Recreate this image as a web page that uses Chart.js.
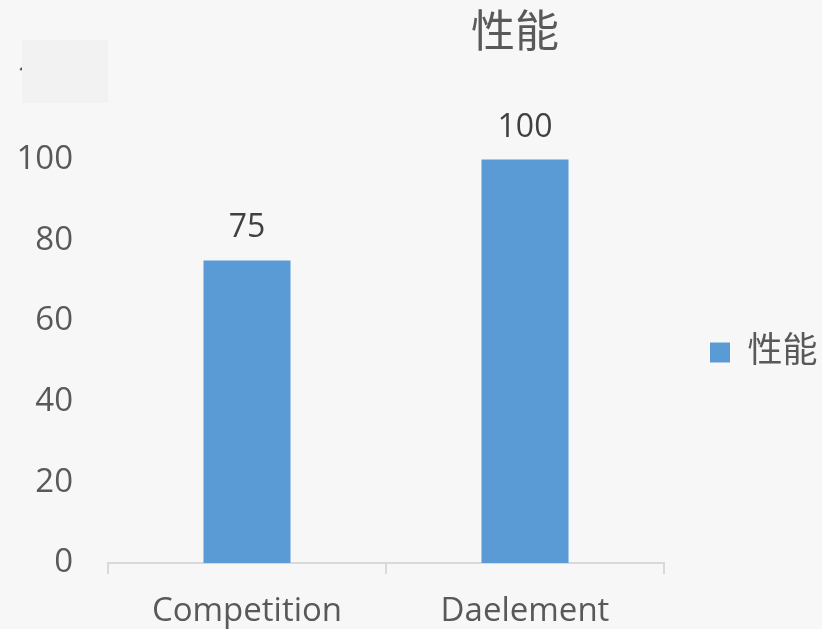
<!DOCTYPE html>
<html>
<head>
<meta charset="utf-8">
<script src="https://cdn.jsdelivr.net/npm/chart.js@4"></script>
<style>
  html, body { margin: 0; padding: 0; background: #f7f7f7; }
  #wrap { position: relative; width: 822px; height: 629px; }
  #cover { position: absolute; left: 22px; top: 40px; width: 86px; height: 63px; background: #f2f2f2; }
</style>
</head>
<body>
<div id="wrap">
  <canvas id="chart" width="822" height="629"></canvas>
  <div id="cover"></div>
</div>
<script>
const categories = ['Competition', 'Daelement']
const values = [75, 100]
const seriesName = '性能'
const yTicks = [0, 20, 40, 60, 80, 100, 120]

Chart.defaults.font.family = "'Open Sans', 'Noto Sans CJK SC', sans-serif"

// values above bars
const barLabels = {
  id: 'barLabels',
  afterDatasetsDraw(chart) {
    const ctx = chart.ctx
    const meta = chart.getDatasetMeta(0)
    ctx.save()
    ctx.font = "32px 'Open Sans', sans-serif"
    ctx.fillStyle = '#404040'
    ctx.textAlign = 'center'
    ctx.textBaseline = 'bottom'
    meta.data.forEach((bar, i) => {
      ctx.fillText(values[i], bar.x, bar.y - 16)
    })
    ctx.restore()
  }
}

// title sits right of centre in the original
const titleShift = {
  id: 'titleShift',
  afterLayout(chart) {
    chart.titleBlock.left = 208
    chart.titleBlock.right = 822
  }
}

new Chart(document.getElementById('chart'), {
  type: 'bar',
  data: {
    labels: categories,
    datasets: [{
      label: seriesName,
      data: values,
      backgroundColor: '#5b9bd5',
      categoryPercentage: 1,
      barPercentage: 0.313
    }]
  },
  options: {
    responsive: false,
    animation: false,
    layout: { padding: { left: 18, right: 0, top: 0, bottom: 0 } },
    plugins: {
      title: {
        display: true,
        text: seriesName,
        color: '#595959',
        font: { size: 44, weight: 'normal' },
        padding: { top: 8, bottom: 18 }
      },
      legend: {
        position: 'right',
        maxWidth: 158,
        title: { display: true, text: '', padding: { top: 40, bottom: 0 }, font: { size: 30 } },
        labels: {
          boxWidth: 20,
          boxHeight: 20,
          padding: 46,
          color: '#595959',
          font: { size: 35 }
        }
      },
      tooltip: { enabled: false }
    },
    scales: {
      y: {
        min: 0,
        max: 120,
        afterBuildTicks(axis) { axis.ticks = yTicks.map(v => ({ value: v })) },
        afterFit(axis) { axis.width = 90 },
        grid: { display: false, drawTicks: false },
        border: { display: false },
        ticks: { color: '#595959', font: { size: 33 }, padding: 35 }
      },
      x: {
        afterFit(axis) { axis.height = 66 },
        grid: {
          display: true,
          drawOnChartArea: false,
          offset: true,
          color: '#d9d9d9',
          tickLength: 11,
          lineWidth: 2
        },
        border: { color: '#d9d9d9', width: 2 },
        ticks: { color: '#595959', font: { size: 33 }, padding: 18 }
      }
    }
  },
  plugins: [barLabels, titleShift]
})
</script>
</body>
</html>
